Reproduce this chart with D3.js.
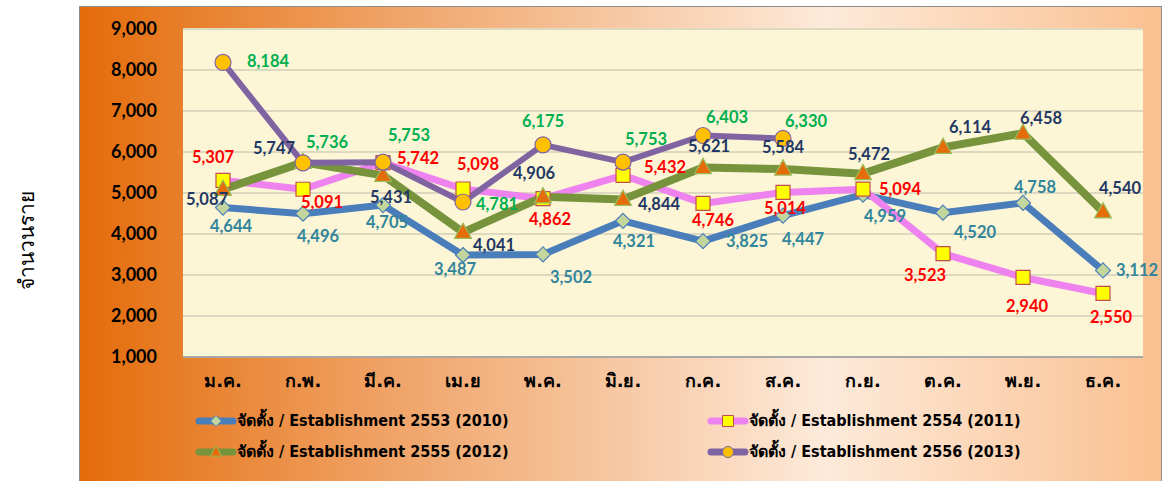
<!DOCTYPE html>
<html>
<head>
<meta charset="utf-8">
<script src="https://cdn.jsdelivr.net/npm/d3@7/dist/d3.min.js"></script>
<style>
  body { margin: 0; background: #fff; }
  svg { display: block; }
</style>
</head>
<body>
<script>
"use strict";

// months (Thai abbreviations)
const months = ["ม.ค.", "ก.พ.", "มี.ค.", "เม.ย", "พ.ค.", "มิ.ย.", "ก.ค.", "ส.ค.", "ก.ย.", "ต.ค.", "พ.ย.", "ธ.ค."];

const est2553 = [4644, 4496, 4705, 3487, 3502, 4321, 3825, 4447, 4959, 4520, 4758, 3112];
const est2554 = [5307, 5091, 5742, 5098, 4862, 5432, 4746, 5014, 5094, 3523, 2940, 2550];
const est2555 = [5087, 5747, 5431, 4041, 4906, 4844, 5621, 5584, 5472, 6114, 6458, 4540];
const est2556 = [8184, 5736, 5753, 4781, 6175, 5753, 6403, 6330];

const seriesNames = [
  "จัดตั้ง / Establishment 2553 (2010)",
  "จัดตั้ง / Establishment 2554 (2011)",
  "จัดตั้ง / Establishment 2555 (2012)",
  "จัดตั้ง / Establishment 2556 (2013)"
];

const yTicks = [1000, 2000, 3000, 4000, 5000, 6000, 7000, 8000, 9000];

// value label nudges [dx, dy] from each point (like excel's dragged labels)
const nudge2553 = [[8, 20], [15, 24], [4, 19], [-8, 16], [28, 24], [11, 22], [44, 2], [20, 25], [22, 23], [32, 21], [12, -14], [34, 1]];
const nudge2554 = [[-10, -22], [19, 14], [35, -3], [15, -23], [7, 22], [42, -7], [10, 18], [2, 17], [37, 2], [-18, 23], [4, 30], [8, 25]];
const nudge2555 = [[-16, 11], [-29, -13], [8, 23], [31, 14], [-9, -22], [36, 6], [6, -20], [0, -20], [6, -18], [27, -19], [18, -13], [17, -22]];
const nudge2556 = [[45, 0], [24, -19], [26, -25], [34, 4], [0, -22], [23, -21], [24, -17], [23, -16]];

const width = 1163;
const height = 481;
const plot = { left: 183, right: 1143, top: 29, bottom: 357 };

const styles = [
  { line: "#4A7EBB", width: 7, fill: "#C3D69B", stroke: "#4A7EBB", label: "#31859C", marker: "diamond", data: est2553, nudge: nudge2553 },
  { line: "#EE82EE", width: 7, fill: "#FFFF00", stroke: "#C0504D", label: "#FF0000", marker: "square", data: est2554, nudge: nudge2554 },
  { line: "#77933C", width: 8, fill: "#E46C0A", stroke: "#9BBB59", label: "#1F3864", marker: "triangle", data: est2555, nudge: nudge2555 },
  { line: "#8064A2", width: 6, fill: "#FFC000", stroke: "#8064A2", label: "#00B050", marker: "circle", data: est2556, nudge: nudge2556 }
];

function markerPath(kind, s) {
  if (kind === "diamond") return `M0,${-s}L${s},0L0,${s}L${-s},0Z`;
  if (kind === "square") return `M${-s},${-s}H${s}V${s}H${-s}Z`;
  if (kind === "triangle") return `M0,${-s * 1.15}L${s * 1.05},${s * 0.75}H${-s * 1.05}Z`;
  return `M${s},0A${s},${s} 0 1,1 ${-s},0A${s},${s} 0 1,1 ${s},0Z`;
}
const markerSize = { diamond: 7.5, square: 7, triangle: 8, circle: 8 };

const svg = d3.select("body").append("svg")
  .attr("width", width)
  .attr("height", height);

const defs = svg.append("defs");
const grad = defs.append("linearGradient").attr("id", "bg").attr("x1", 0).attr("x2", 1).attr("y1", 0).attr("y2", 0);
[[0, "#E46C0A"], [0.27, "#EFA062"], [0.69, "#FDEADA"], [1, "#FAC090"]].forEach(([o, c]) => {
  grad.append("stop").attr("offset", o).attr("stop-color", c);
});

// outer panel
svg.append("rect")
  .attr("x", 79.5).attr("y", 6.5)
  .attr("width", 1082).attr("height", 480)
  .attr("fill", "url(#bg)")
  .attr("stroke", "#8c8c8c");

// axis title
svg.append("text")
  .attr("transform", "translate(28,240) rotate(-90)")
  .attr("text-anchor", "middle")
  .attr("dominant-baseline", "middle")
  .attr("font-family", "'DejaVu Sans', sans-serif")
  .attr("font-size", 21)
  .text("จำนวนราย");

const x = d3.scaleBand().domain(months).range([plot.left, plot.right]);
const y = d3.scaleLinear().domain([1000, 9000]).range([plot.bottom, plot.top]);

// plot area
svg.append("rect")
  .attr("x", plot.left).attr("y", plot.top)
  .attr("width", plot.right - plot.left).attr("height", plot.bottom - plot.top)
  .attr("fill", "#FCF5D6");

svg.append("g")
  .selectAll("line")
  .data(yTicks)
  .join("line")
  .attr("x1", plot.left).attr("x2", plot.right)
  .attr("y1", (d) => y(d)).attr("y2", (d) => y(d))
  .attr("stroke", (d) => d === 1000 ? "#a8a8a8" : "#DDD8C0")
  .attr("stroke-width", 2);

// y axis labels
const yAxis = d3.axisLeft(y).tickValues(yTicks).tickSize(0).tickPadding(0).tickFormat(d3.format(","));
svg.append("g")
  .attr("transform", "translate(157,0)")
  .call(yAxis)
  .call((g) => g.select(".domain").remove())
  .selectAll("text")
  .attr("font-family", "Lato, sans-serif")
  .attr("font-weight", "bold")
  .attr("font-size", 18)
  .attr("fill", "#000");

// x axis labels
const xAxis = d3.axisBottom(x).tickSize(0).tickPadding(0);
svg.append("g")
  .attr("transform", "translate(0,374)")
  .call(xAxis)
  .call((g) => g.select(".domain").remove())
  .selectAll("text")
  .attr("font-family", "'DejaVu Sans', sans-serif")
  .attr("font-weight", "bold")
  .attr("font-size", 18)
  .attr("fill", "#000");

const cx = (i) => x(months[i]) + x.bandwidth() / 2;

const lineGen = d3.line().x((d, i) => cx(i)).y((d) => y(d));

styles.forEach((s) => {
  svg.append("path")
    .datum(s.data)
    .attr("d", lineGen)
    .attr("fill", "none")
    .attr("stroke", s.line)
    .attr("stroke-width", s.width)
    .attr("stroke-linejoin", "round");
});

styles.forEach((s) => {
  svg.append("g")
    .selectAll("path")
    .data(s.data)
    .join("path")
    .attr("transform", (d, i) => `translate(${cx(i)},${y(d)})`)
    .attr("d", markerPath(s.marker, markerSize[s.marker]))
    .attr("fill", s.fill)
    .attr("stroke", s.stroke)
    .attr("stroke-width", 1.2);
});

styles.forEach((s) => {
  svg.append("g")
    .selectAll("text")
    .data(s.data)
    .join("text")
    .attr("x", (d, i) => cx(i) + s.nudge[i][0])
    .attr("y", (d, i) => y(d) + s.nudge[i][1])
    .attr("text-anchor", "middle")
    .attr("dominant-baseline", "middle")
    .attr("font-family", "Lato, sans-serif")
    .attr("font-weight", "bold")
    .attr("font-size", 16.5)
    .attr("fill", s.label)
    .text((d) => d3.format(",")(d));
});

// legend
const legendSpots = [[196, 421], [708, 421], [196, 452], [708, 452]];
styles.forEach((s, i) => {
  const [lx, ly] = legendSpots[i];
  const g = svg.append("g").attr("transform", `translate(${lx},${ly})`);
  g.append("line")
    .attr("x1", 3).attr("x2", 37)
    .attr("stroke", s.line)
    .attr("stroke-width", 7)
    .attr("stroke-linecap", "round");
  g.append("path")
    .attr("transform", "translate(20,0)")
    .attr("d", markerPath(s.marker, 5.5))
    .attr("fill", s.fill)
    .attr("stroke", s.stroke);
  g.append("text")
    .attr("x", 41)
    .attr("dominant-baseline", "middle")
    .attr("font-family", "'Liberation Sans Narrow', 'DejaVu Sans Condensed', sans-serif")
    .attr("font-weight", "bold")
    .attr("font-size", 16)
    .attr("fill", "#000")
    .text(seriesNames[i]);
});
</script>
</body>
</html>
